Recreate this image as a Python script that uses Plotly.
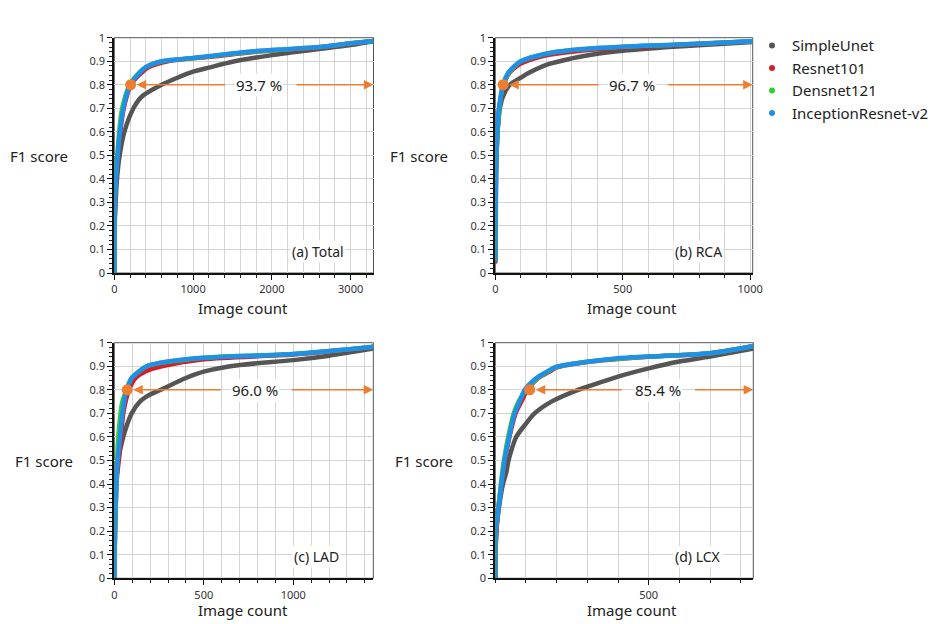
import plotly.graph_objects as go

W, H = 940, 624
FONT = "Noto Sans"

models = ["SimpleUnet", "Resnet101", "Densnet121", "InceptionResnet-v2"]
colors = ["#555555", "#d0202a", "#33cc33", "#1f8fe8"]

# ---- Panel (a) Total ----
a_gray_x = [0, 5, 17, 34, 68, 128, 243, 350, 600, 800, 1000, 1200, 1500, 2000, 2500, 3000, 3290]
a_gray_y = [0.0, 0.2, 0.3, 0.4, 0.5, 0.6, 0.7, 0.75, 0.8, 0.83, 0.856, 0.873, 0.898, 0.926, 0.948, 0.969, 0.985]
a_red_x = [0, 4, 10, 23, 45, 75, 120, 210, 340, 440, 680, 1250, 1800, 2500, 3000, 3290]
a_red_y = [0.0, 0.2, 0.3, 0.4, 0.5, 0.6, 0.7, 0.8, 0.85, 0.875, 0.9, 0.92, 0.94, 0.955, 0.975, 0.986]
a_green_x = [0, 3, 7, 18, 38, 62, 100, 195, 310, 400, 610, 1050, 1750, 2600, 3000, 3290]
a_green_y = [0.0, 0.2, 0.3, 0.4, 0.5, 0.6, 0.7, 0.8, 0.85, 0.875, 0.9, 0.915, 0.94, 0.96, 0.976, 0.986]
a_blue_x = [0, 3, 8, 21, 43, 72, 115, 200, 320, 400, 500, 600, 800, 1000, 1700, 2100, 2600, 3000, 3290]
a_blue_y = [0.0, 0.2, 0.3, 0.4, 0.5, 0.6, 0.7, 0.8, 0.85, 0.875, 0.89, 0.9, 0.907, 0.914, 0.94, 0.95, 0.96, 0.976, 0.986]

# ---- Panel (b) RCA ----
b_gray_x = [0, 1, 2, 3, 5, 8, 13, 18, 30, 57, 100, 130, 200, 300, 400, 500, 700, 1010]
b_gray_y = [0.05, 0.2, 0.35, 0.44, 0.5, 0.6, 0.65, 0.7, 0.75, 0.8, 0.83, 0.85, 0.885, 0.912, 0.932, 0.945, 0.962, 0.982]
b_red_x = [0, 1, 2, 3, 5, 9, 15, 23, 32, 55, 85, 110, 200, 300, 500, 700, 1010]
b_red_y = [0.04, 0.13, 0.2, 0.44, 0.5, 0.6, 0.7, 0.75, 0.8, 0.85, 0.88, 0.895, 0.925, 0.94, 0.958, 0.968, 0.985]
b_green_x = [0, 1, 2, 3, 5, 9, 16, 23, 32, 52, 78, 100, 200, 300, 500, 700, 1010]
b_green_y = [0.05, 0.2, 0.4, 0.45, 0.52, 0.6, 0.7, 0.76, 0.8, 0.85, 0.88, 0.9, 0.932, 0.948, 0.962, 0.97, 0.985]
b_blue_x = [0, 1, 2, 3, 4, 8, 14, 21, 30, 50, 76, 100, 200, 300, 500, 700, 1010]
b_blue_y = [0.05, 0.2, 0.33, 0.45, 0.5, 0.6, 0.7, 0.75, 0.8, 0.85, 0.88, 0.9, 0.932, 0.948, 0.962, 0.97, 0.985]

# ---- Panel (c) LAD ----
c_gray_x = [0, 4, 9, 22, 50, 97, 143, 200, 260, 400, 500, 700, 1000, 1200, 1447]
c_gray_y = [0.0, 0.3, 0.4, 0.5, 0.6, 0.7, 0.75, 0.78, 0.8, 0.85, 0.877, 0.905, 0.926, 0.945, 0.975]
c_red_x = [0, 3, 8, 14, 25, 38, 50, 82, 119, 180, 265, 500, 1000, 1447]
c_red_y = [0.0, 0.15, 0.3, 0.42, 0.5, 0.6, 0.7, 0.8, 0.85, 0.88, 0.9, 0.93, 0.95, 0.982]
c_green_x = [0, 4, 10, 16, 22, 35, 45, 68, 97, 140, 180, 500, 1000, 1447]
c_green_y = [0.0, 0.2, 0.35, 0.5, 0.6, 0.7, 0.75, 0.8, 0.85, 0.88, 0.9, 0.936, 0.952, 0.983]
c_blue_x = [0, 4, 11, 19, 32, 45, 69, 97, 143, 180, 300, 500, 1000, 1447]
c_blue_y = [0.0, 0.2, 0.4, 0.5, 0.6, 0.7, 0.8, 0.85, 0.88, 0.9, 0.92, 0.936, 0.952, 0.983]

# ---- Panel (d) LCX ----
d_gray_x = [0, 3, 12, 25, 36, 43, 54, 68, 96, 128, 183, 270, 300, 400, 500, 600, 700, 841]
d_gray_y = [0.0, 0.2, 0.3, 0.4, 0.45, 0.5, 0.55, 0.6, 0.65, 0.7, 0.75, 0.8, 0.813, 0.856, 0.891, 0.92, 0.941, 0.975]
d_red_x = [0, 2, 10, 20, 31, 46, 66, 85, 105, 140, 180, 200, 300, 500, 700, 841]
d_red_y = [0.0, 0.15, 0.3, 0.4, 0.5, 0.6, 0.7, 0.75, 0.8, 0.85, 0.88, 0.895, 0.918, 0.94, 0.955, 0.986]
d_green_x = [0, 2, 10, 18, 28, 42, 60, 76, 100, 138, 175, 200, 300, 500, 700, 841]
d_green_y = [0.0, 0.2, 0.3, 0.4, 0.5, 0.6, 0.7, 0.75, 0.8, 0.85, 0.88, 0.897, 0.919, 0.941, 0.955, 0.986]
d_blue_x = [0, 1, 11, 20, 30, 45, 63, 79, 96, 134, 172, 200, 300, 400, 500, 700, 841]
d_blue_y = [0.0, 0.2, 0.3, 0.4, 0.5, 0.6, 0.7, 0.75, 0.8, 0.85, 0.88, 0.898, 0.919, 0.934, 0.941, 0.955, 0.986]

panel_labels = ["(a) Total", "(b) RCA", "(c) LAD", "(d) LCX"]
x_max = [3290, 1010, 1447, 841]
x_ticks = [[0, 1000, 2000, 3000], [0, 500, 1000], [0, 500, 1000], [500]]
x_minor = [200, 100, 100, 100]
knee_x = [207, 31, 72, 112]          # image count where F1 = 0.8
knee_y = 0.8
pct_text = ["93.7 %", "96.7 %", "96.0 %", "85.4 %"]
pct_x = [1836, 535, 784, 529]
left_tail = [1426, 411, 604, 417]
right_tail = [2293, 673, 983, 646]
label_x = [2581, 797, 1132, 661]

series = [
    [(a_gray_x, a_gray_y), (a_red_x, a_red_y), (a_green_x, a_green_y), (a_blue_x, a_blue_y)],
    [(b_gray_x, b_gray_y), (b_red_x, b_red_y), (b_green_x, b_green_y), (b_blue_x, b_blue_y)],
    [(c_gray_x, c_gray_y), (c_red_x, c_red_y), (c_green_x, c_green_y), (c_blue_x, c_blue_y)],
    [(d_gray_x, d_gray_y), (d_red_x, d_red_y), (d_green_x, d_green_y), (d_blue_x, d_blue_y)],
]

# plot-area pixel boxes (left, right, top, bottom)
boxes = [(114.3, 373.5, 37.7, 273.0), (495.3, 752.7, 37.7, 273.0),
         (114.3, 373.3, 342.7, 578.3), (495.3, 753.3, 342.7, 578.3)]
ytitle_x = [39, 419, 44, 424]
ytitle_y = [156, 156, 461, 461]
xtitle_x = [243, 632, 243, 632]
xtitle_y = [308, 308, 610, 610]

fig = go.Figure()
layout = dict(
    width=W, height=H, margin=dict(l=0, r=0, t=0, b=0, autoexpand=False),
    paper_bgcolor="white", plot_bgcolor="white",
    font=dict(family=FONT, color="#222"),
    showlegend=True,
    legend=dict(x=0.8, y=0.953, xanchor="left", yanchor="top",
                font=dict(size=15, color="#222"), tracegroupgap=0,
                itemwidth=30, bgcolor="rgba(0,0,0,0)"),
)
annotations = []
shapes = []

for i in range(4):
    xa = "xaxis" if i == 0 else f"xaxis{i+1}"
    ya = "yaxis" if i == 0 else f"yaxis{i+1}"
    xr = "x" if i == 0 else f"x{i+1}"
    yr = "y" if i == 0 else f"y{i+1}"
    l, r, t, b = boxes[i]
    layout[xa] = dict(
        domain=[l / W, r / W], anchor=yr, range=[0, x_max[i]],
        tickmode="array", tickvals=x_ticks[i],
        showgrid=True, gridcolor="#d4d4d4", gridwidth=1,
        minor=dict(dtick=x_minor[i], tick0=0, showgrid=True, gridcolor="#d4d4d4",
                   ticks="outside", ticklen=3, tickcolor="#222"),
        showline=True, linecolor="#111", linewidth=2,
        ticks="outside", ticklen=5, tickcolor="#111",
        tickfont=dict(size=11, color="#333"), zeroline=False, automargin=False,
    )
    layout[ya] = dict(
        domain=[1 - b / H, 1 - t / H], anchor=xr, range=[0, 1],
        dtick=0.1, tick0=0, showgrid=True, gridcolor="#d4d4d4", gridwidth=1,
        minor=dict(dtick=0.02, tick0=0, ticks="outside", ticklen=3, tickcolor="#222",
                   showgrid=False),
        showline=True, linecolor="#111", linewidth=2,
        ticks="outside", ticklen=5, tickcolor="#111",
        tickfont=dict(size=11, color="#333"), zeroline=False, automargin=False,
    )
    shapes.append(dict(type="rect", xref=f"{xr} domain", yref=f"{yr} domain",
                       x0=0, x1=1, y0=0, y1=1, line=dict(color="#555", width=1),
                       layer="below"))
    for k, (sx, sy) in enumerate(series[i]):
        fig.add_trace(go.Scatter(x=sx, y=sy, mode="lines", xaxis=xr, yaxis=yr,
                                 line=dict(color=colors[k], width=4.5, shape="spline", smoothing=0.8),
                                 showlegend=False, hoverinfo="skip"))
    fig.add_trace(go.Scatter(x=[knee_x[i]], y=[knee_y], mode="markers", xaxis=xr, yaxis=yr,
                             marker=dict(color="#ed7d31", size=11), showlegend=False,
                             hoverinfo="skip"))
    # arrows
    annotations.append(dict(x=knee_x[i], y=knee_y, ax=left_tail[i], ay=knee_y,
                            xref=xr, yref=yr, axref=xr, ayref=yr, text="",
                            showarrow=True, arrowhead=2, arrowsize=1.2, arrowwidth=1.6,
                            arrowcolor="#ed7d31", standoff=6))
    annotations.append(dict(x=x_max[i], y=knee_y, ax=right_tail[i], ay=knee_y,
                            xref=xr, yref=yr, axref=xr, ayref=yr, text="",
                            showarrow=True, arrowhead=2, arrowsize=1.2, arrowwidth=1.6,
                            arrowcolor="#ed7d31"))
    annotations.append(dict(x=pct_x[i], y=knee_y, xref=xr, yref=yr, text=pct_text[i],
                            showarrow=False, font=dict(size=15, color="#222"),
                            xanchor="center", yanchor="middle", bgcolor="white"))
    annotations.append(dict(x=label_x[i], y=0.093, xref=xr, yref=yr, text=panel_labels[i],
                            showarrow=False, font=dict(size=14, color="#222"),
                            xanchor="center", yanchor="middle", bgcolor="white"))
    # axis titles
    annotations.append(dict(x=xtitle_x[i] / W, y=1 - xtitle_y[i] / H, xref="paper", yref="paper",
                            text="Image count", showarrow=False,
                            xanchor="center", yanchor="middle",
                            font=dict(size=15, color="#222")))
    annotations.append(dict(x=ytitle_x[i] / W, y=1 - ytitle_y[i] / H, xref="paper", yref="paper",
                            text="F1 score", showarrow=False,
                            xanchor="center", yanchor="middle",
                            font=dict(size=15, color="#222")))

# legend entries
for k in range(4):
    fig.add_trace(go.Scatter(x=[None], y=[None], mode="markers", name=models[k],
                             marker=dict(color=colors[k], size=6), showlegend=True))

layout["annotations"] = annotations
layout["shapes"] = shapes
fig.update_layout(**layout)
fig.write_html("out.html")
